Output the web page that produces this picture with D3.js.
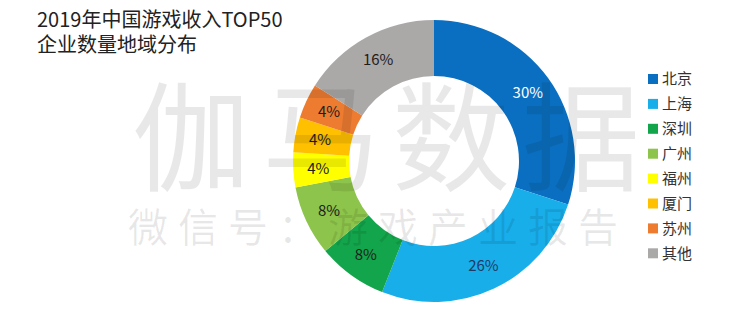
<!DOCTYPE html>
<html>
<head>
<meta charset="utf-8">
<script src="https://cdn.jsdelivr.net/npm/d3@7"></script>
<style>
  body { margin: 0; background: #fff; }
  text { font-family: "Noto Sans CJK SC", "Noto Sans", sans-serif; }
</style>
</head>
<body>
<script>
const width = 750;
const height = 315;

const cities = ['北京', '上海', '深圳', '广州', '福州', '厦门', '苏州', '其他'];
const shares = [30, 26, 8, 8, 4, 4, 4, 16];
const colorList = ['#0b6fc1', '#18aeea', '#13a54b', '#8dc44b', '#ffff00', '#ffc000', '#ed7c31', '#aba8a8'];
const labelColors = ['#ffffff', '#1f3b66', '#1d1d1d', '#1d1d1d', '#1d1d1d', '#1d1d1d', '#1d1d1d', '#1d1d1d'];
const titleLines = ['2019年中国游戏收入TOP50', '企业数量地域分布'];

const cx = 434, cy = 161;
const outerRadius = 141;
const innerRadius = 85;

const color = d3.scaleOrdinal().domain(cities).range(colorList);

const data = cities.map((c, i) => ({city: c, value: shares[i]}));

const svg = d3.select('body')
  .append('svg')
  .attr('width', width)
  .attr('height', height);

// title
svg.append('g')
  .selectAll('text')
  .data(titleLines)
  .join('text')
  .attr('x', 37)
  .attr('y', (d, i) => 27 + i * 25)
  .attr('font-size', 20)
  .attr('fill', '#222')
  .text(d => d);

// donut
const pie = d3.pie().sort(null).value(d => d.value);
const arc = d3.arc().innerRadius(innerRadius).outerRadius(outerRadius);
const labelArc = d3.arc().innerRadius(116).outerRadius(116);

const gPie = svg.append('g')
  .attr('transform', `translate(${cx},${cy})`);

gPie.selectAll('path')
  .data(pie(data))
  .join('path')
  .attr('d', arc)
  .attr('fill', d => color(d.data.city));

gPie.selectAll('text')
  .data(pie(data))
  .join('text')
  .attr('transform', d => `translate(${labelArc.centroid(d)})`)
  .attr('text-anchor', 'middle')
  .attr('dy', '0.35em')
  .attr('font-size', 15)
  .attr('fill', (d, i) => labelColors[i])
  .text(d => d.data.value + '%');

// legend
const legend = svg.append('g')
  .attr('transform', 'translate(648,79)');

const rows = legend.selectAll('g')
  .data(cities)
  .join('g')
  .attr('transform', (d, i) => `translate(0,${i * 24.9})`);

rows.append('rect')
  .attr('x', 0)
  .attr('y', -5)
  .attr('width', 10)
  .attr('height', 10)
  .attr('fill', d => color(d));

rows.append('text')
  .attr('x', 14)
  .attr('dy', '0.36em')
  .attr('font-size', 15)
  .attr('fill', '#333')
  .text(d => d);

// watermark
const mark = svg.append('g')
  .attr('fill', '#000')
  .attr('fill-opacity', 0.09)
  .attr('pointer-events', 'none');

mark.append('text')
  .attr('x', 132)
  .attr('y', 182)
  .attr('font-size', 118)
  .attr('letter-spacing', 12)
  .text('伽马数据');

mark.append('text')
  .attr('x', 128)
  .attr('y', 242)
  .attr('font-size', 40)
  .attr('letter-spacing', 10)
  .text('微信号：游戏产业报告');
</script>
</body>
</html>
